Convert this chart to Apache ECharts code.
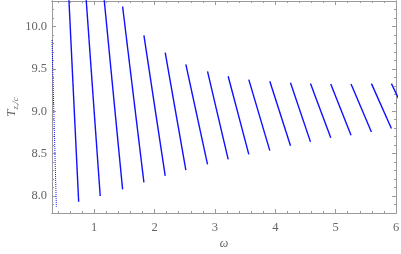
<!DOCTYPE html>
<html>
<head>
<meta charset="utf-8">
<script src="https://cdn.jsdelivr.net/npm/echarts@6/dist/echarts.min.js"></script>
<style>html,body{margin:0;padding:0;background:#fff}#c{width:401px;height:254px}</style>
</head>
<body>
<div id="c"></div>
<script>
// Segment endpoints (top point and bottom point of each branch)
const topX = [0.300, 0.578, 0.863, 1.160, 1.470, 1.823, 2.176, 2.518, 2.877, 3.219, 3.561, 3.909, 4.252, 4.583, 4.919, 5.255, 5.593, 5.924];
const topY = [9.840, 10.35, 10.35, 10.35, 10.235, 9.894, 9.691, 9.553, 9.471, 9.412, 9.373, 9.353, 9.337, 9.326, 9.321, 9.321, 9.326, 9.326];
const botX = [0.372, 0.742, 1.099, 1.470, 1.823, 2.176, 2.518, 2.877, 3.219, 3.561, 3.909, 4.252, 4.583, 4.919, 5.255, 5.593, 5.924, 6.250];
const botY = [7.875, 7.933, 8.000, 8.079, 8.161, 8.239, 8.306, 8.373, 8.432, 8.491, 8.535, 8.592, 8.639, 8.686, 8.718, 8.756, 8.796, 8.840];

const xMajor = [1, 2, 3, 4, 5, 6];
const xMinor = [0.4, 0.6, 0.8, 1.2, 1.4, 1.6, 1.8, 2.2, 2.4, 2.6, 2.8, 3.2, 3.4, 3.6, 3.8, 4.2, 4.4, 4.6, 4.8, 5.2, 5.4, 5.6, 5.8];
const yMajor = [8.0, 8.5, 9.0, 9.5, 10.0];
const yMinor = [7.9, 8.1, 8.2, 8.3, 8.4, 8.6, 8.7, 8.8, 8.9, 9.1, 9.2, 9.3, 9.4, 9.6, 9.7, 9.8, 9.9, 10.1, 10.2];

const frameColor = '#9a9a9a';
const labelColor = '#666';
const serif = '"Liberation Serif", "DejaVu Serif", serif';

function xAx(pos, ticks, len, labels, extra) {
  return Object.assign({
    type: 'value', min: 0.3, max: 6, position: pos,
    axisLine: { show: true, onZero: false, lineStyle: { color: frameColor, width: 1 } },
    axisTick: { show: true, inside: true, length: len, customValues: ticks, lineStyle: { color: frameColor } },
    axisLabel: labels ? { show: true, customValues: ticks, margin: 8, color: labelColor, fontFamily: serif, fontSize: 12.5, formatter: v => String(v) } : { show: false },
    splitLine: { show: false }
  }, extra || {});
}
function yAx(pos, ticks, len, labels, extra) {
  return Object.assign({
    type: 'value', min: 7.8, max: 10.3, position: pos,
    axisLine: { show: true, onZero: false, lineStyle: { color: frameColor, width: 1 } },
    axisTick: { show: true, inside: true, length: len, customValues: ticks, lineStyle: { color: frameColor } },
    axisLabel: labels ? { show: true, customValues: ticks, margin: 5, color: labelColor, fontFamily: serif, fontSize: 12.5, formatter: v => v.toFixed(1) } : { show: false },
    splitLine: { show: false }
  }, extra || {});
}

const series = topX.map((_, i) => ({
  type: 'line',
  xAxisIndex: 0, yAxisIndex: 0,
  data: [[topX[i], topY[i]], [botX[i], botY[i]]],
  showSymbol: false, symbol: 'none', silent: true, clip: true,
  lineStyle: { color: '#1010ff', width: i === 0 ? 1 : 1.4, type: i === 0 ? 'dotted' : 'solid' }
}));

const chart = echarts.init(document.getElementById('c'), null, { renderer: 'canvas' });
chart.setOption({
  animation: false,
  grid: { left: 52, right: 5, top: 1, bottom: 41, containLabel: false, outerBoundsMode: 'none' },
  xAxis: [
    xAx('bottom', xMajor, 4, true, {
      name: 'ω', nameLocation: 'middle', nameGap: 25, nameMoveOverlap: false,
      nameTextStyle: { color: labelColor, fontFamily: serif, fontStyle: 'italic', fontSize: 12 }
    }),
    xAx('bottom', xMinor, 2, false),
    xAx('top', xMajor, 4, false),
    xAx('top', xMinor, 2, false)
  ],
  yAxis: [
    yAx('left', yMajor, 4, true, {
      name: '{a|T}{b|z,/c}', nameLocation: 'middle', nameGap: 32, nameRotate: 90, nameMoveOverlap: false,
      nameTextStyle: {
        color: labelColor, fontFamily: serif, fontStyle: 'italic', fontSize: 13,
        rich: {
          a: { color: labelColor, fontFamily: serif, fontStyle: 'italic', fontSize: 13 },
          b: { color: labelColor, fontFamily: serif, fontStyle: 'italic', fontSize: 9, padding: [7, 0, 0, 0] }
        }
      }
    }),
    yAx('left', yMinor, 2, false),
    yAx('right', yMajor, 4, false),
    yAx('right', yMinor, 2, false)
  ],
  series: series
});
</script>
</body>
</html>
